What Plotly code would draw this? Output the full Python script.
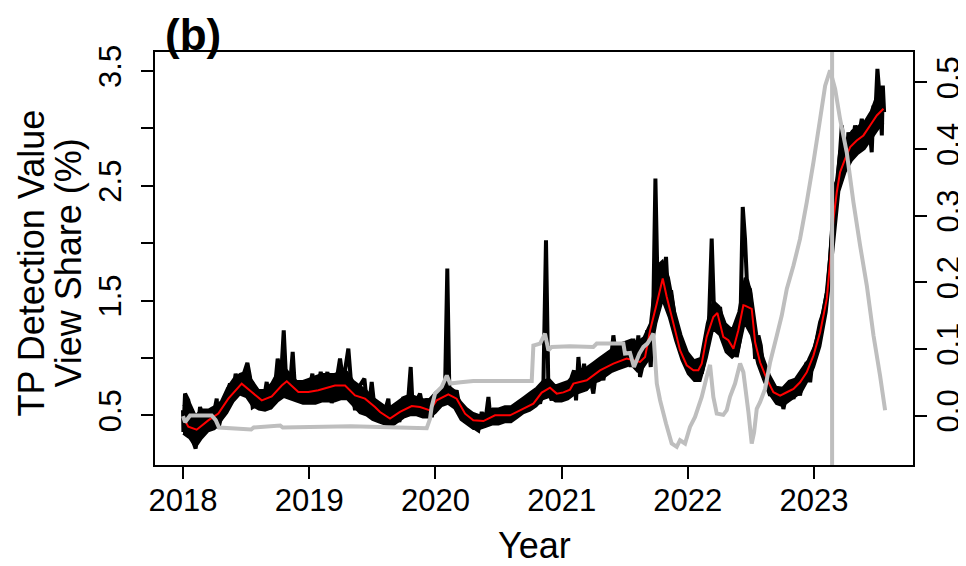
import plotly.graph_objects as go

# ---------------- data ----------------
black_year = [
    2018.000, 2018.003, 2018.016, 2018.042, 2018.069, 2018.100, 2018.135, 2018.169, 2018.200, 2018.232,
    2018.267, 2018.280, 2018.333, 2018.372, 2018.391, 2018.417, 2018.444, 2018.478, 2018.510, 2018.531,
    2018.552, 2018.592, 2018.629, 2018.663, 2018.690, 2018.724, 2018.750, 2018.777, 2018.798, 2018.817,
    2018.843, 2018.869, 2018.888, 2018.927, 2018.967, 2019.006, 2019.025, 2019.051, 2019.091, 2019.117,
    2019.144, 2019.178, 2019.210, 2019.244, 2019.270, 2019.310, 2019.331, 2019.363, 2019.394, 2019.437,
    2019.463, 2019.482, 2019.495, 2019.521, 2019.561, 2019.587, 2019.627, 2019.646, 2019.680, 2019.714,
    2019.746, 2019.778, 2019.804, 2019.820, 2019.852, 2019.878, 2019.904, 2019.936, 2019.971, 2019.997,
    2020.024, 2020.050, 2020.076, 2020.094, 2020.110, 2020.142, 2020.168, 2020.195, 2020.235, 2020.274,
    2020.300, 2020.340, 2020.367, 2020.393, 2020.420, 2020.438, 2020.472, 2020.512, 2020.552, 2020.591,
    2020.631, 2020.670, 2020.697, 2020.737, 2020.776, 2020.803, 2020.829, 2020.855, 2020.876, 2020.895,
    2020.921, 2020.948, 2020.974, 2021.000, 2021.040, 2021.066, 2021.080, 2021.098, 2021.114, 2021.133,
    2021.151, 2021.178, 2021.199, 2021.225, 2021.251, 2021.278, 2021.304, 2021.331, 2021.357, 2021.383,
    2021.410, 2021.431, 2021.450, 2021.476, 2021.502, 2021.529, 2021.547, 2021.568, 2021.589, 2021.608,
    2021.621, 2021.648, 2021.679, 2021.706, 2021.727, 2021.743, 2021.759, 2021.775, 2021.788, 2021.806,
    2021.827, 2021.846, 2021.867, 2021.899, 2021.925, 2021.951, 2021.978, 2022.004, 2022.031, 2022.057,
    2022.083, 2022.110, 2022.136, 2022.163, 2022.189, 2022.207, 2022.229, 2022.255, 2022.281, 2022.308,
    2022.334, 2022.361, 2022.387, 2022.414, 2022.435, 2022.453, 2022.467, 2022.493, 2022.514, 2022.533,
    2022.559, 2022.578, 2022.599, 2022.625, 2022.652, 2022.678, 2022.705, 2022.731, 2022.757, 2022.784,
    2022.810, 2022.837, 2022.863, 2022.889, 2022.916, 2022.942, 2022.969, 2022.995, 2023.022, 2023.048,
    2023.074, 2023.101, 2023.127, 2023.148, 2023.167, 2023.188, 2023.206, 2023.220, 2023.238, 2023.259,
    2023.272, 2023.299, 2023.325, 2023.352, 2023.378, 2023.405, 2023.431, 2023.457, 2023.471, 2023.484,
    2023.502, 2023.523, 2023.537, 2023.545, 2023.555,
]
black_value = [
    0.544, 0.355, 0.689, 0.631, 0.310, 0.210, 0.572, 0.427, 0.544, 0.442,
    0.645, 0.384, 0.631, 0.776, 0.660, 0.863, 0.718, 0.848, 0.956, 0.834,
    0.572, 0.600, 0.558, 0.791, 0.558, 0.689, 0.994, 0.834, 1.241, 0.805,
    0.689, 1.052, 0.718, 0.674, 0.689, 0.747, 0.863, 0.616, 0.878, 0.747,
    0.878, 0.607, 0.760, 0.994, 0.791, 1.081, 0.791, 0.544, 0.747, 0.820,
    0.544, 0.660, 0.790, 0.529, 0.602, 0.485, 0.645, 0.398, 0.572, 0.442,
    0.660, 0.544, 0.921, 0.558, 0.631, 0.689, 0.544, 0.645, 0.485, 0.631,
    0.703, 0.631, 0.718, 1.779, 0.718, 0.660, 0.718, 0.544, 0.442, 0.515,
    0.398, 0.369, 0.529, 0.427, 0.660, 0.442, 0.544, 0.442, 0.529, 0.485,
    0.529, 0.602, 0.529, 0.616, 0.602, 0.660, 0.602, 0.747, 2.026, 0.718,
    0.631, 0.733, 0.660, 0.718, 0.689, 0.718, 0.834, 0.892, 0.631, 1.008,
    0.747, 0.950, 0.747, 0.834, 0.689, 0.921, 0.979, 0.805, 1.008, 0.892,
    1.197, 1.008, 1.095, 0.950, 1.052, 1.125, 0.921, 1.168, 0.979, 1.197,
    0.834, 0.965, 1.241, 0.921, 1.474, 2.564, 1.677, 1.503, 1.823, 1.677,
    1.880, 1.474, 1.590, 1.328, 1.212, 1.067, 1.008, 0.892, 0.950, 0.820,
    0.921, 0.863, 1.008, 1.168, 2.040, 1.415, 1.328, 1.444, 1.212, 1.168,
    1.125, 1.212, 1.008, 1.168, 2.316, 2.037, 1.688, 1.572, 1.340, 0.991,
    1.195, 1.108, 0.875, 0.759, 0.672, 0.729, 0.613, 0.729, 0.555, 0.701,
    0.773, 0.642, 0.817, 0.672, 0.875, 0.962, 0.788, 1.049, 1.165, 1.311,
    1.398, 1.572, 1.863, 2.211, 2.503, 2.560, 2.793, 3.026, 2.793, 2.648,
    2.965, 2.822, 3.026, 2.909, 3.084, 2.939, 3.084, 2.793, 3.200, 3.084,
    3.519, 3.229, 2.939, 3.374, 3.142,
]

# solid core of the thick, noisy daily black trace (lower / upper edge)
band_year = [
    2018.00, 2018.05, 2018.10, 2018.15, 2018.20, 2018.25, 2018.30, 2018.35, 2018.40, 2018.45,
    2018.50, 2018.55, 2018.60, 2018.65, 2018.70, 2018.75, 2018.80, 2018.85, 2018.90, 2018.95,
    2019.00, 2019.05, 2019.10, 2019.15, 2019.20, 2019.25, 2019.30, 2019.35, 2019.40, 2019.45,
    2019.50, 2019.55, 2019.60, 2019.65, 2019.70, 2019.75, 2019.80, 2019.85, 2019.90, 2019.95,
    2020.00, 2020.05, 2020.10, 2020.15, 2020.20, 2020.25, 2020.30, 2020.35, 2020.40, 2020.45,
    2020.50, 2020.55, 2020.60, 2020.65, 2020.70, 2020.75, 2020.80, 2020.85, 2020.90, 2020.95,
    2021.00, 2021.05, 2021.10, 2021.15, 2021.20, 2021.25, 2021.30, 2021.35, 2021.40, 2021.45,
    2021.50, 2021.55, 2021.60, 2021.65, 2021.70, 2021.75, 2021.80, 2021.85, 2021.90, 2021.95,
    2022.00, 2022.05, 2022.10, 2022.15, 2022.20, 2022.25, 2022.30, 2022.35, 2022.40, 2022.45,
    2022.50, 2022.55, 2022.60, 2022.65, 2022.70, 2022.75, 2022.80, 2022.85, 2022.90, 2022.95,
    2023.00, 2023.05, 2023.10, 2023.15, 2023.20, 2023.25, 2023.30, 2023.35, 2023.40, 2023.45,
    2023.50, 2023.55,
]
band_low = [
    0.34, 0.30, 0.22, 0.30, 0.36, 0.38, 0.45, 0.52, 0.62, 0.68,
    0.66, 0.58, 0.55, 0.54, 0.56, 0.62, 0.66, 0.64, 0.62, 0.60,
    0.60, 0.60, 0.62, 0.62, 0.62, 0.64, 0.64, 0.58, 0.52, 0.50,
    0.46, 0.44, 0.42, 0.40, 0.44, 0.48, 0.50, 0.50, 0.48, 0.48,
    0.52, 0.58, 0.60, 0.56, 0.46, 0.42, 0.38, 0.38, 0.40, 0.42,
    0.42, 0.44, 0.44, 0.48, 0.52, 0.54, 0.58, 0.64, 0.66, 0.62,
    0.62, 0.64, 0.68, 0.70, 0.72, 0.78, 0.80, 0.84, 0.88, 0.90,
    0.92, 0.94, 0.88, 0.92, 1.00, 1.30, 1.50, 1.35, 1.15, 0.98,
    0.86, 0.80, 0.80, 1.00, 1.25, 1.20, 1.05, 1.00, 1.05, 1.30,
    1.20, 0.95, 0.80, 0.68, 0.60, 0.58, 0.62, 0.66, 0.70, 0.80,
    0.92, 1.10, 1.40, 1.90, 2.45, 2.62, 2.72, 2.78, 2.82, 2.90,
    2.98, 3.05,
]
band_high = [
    0.58, 0.62, 0.50, 0.55, 0.55, 0.58, 0.62, 0.74, 0.82, 0.86,
    0.88, 0.80, 0.72, 0.72, 0.78, 0.88, 0.92, 0.86, 0.80, 0.80,
    0.82, 0.84, 0.86, 0.86, 0.86, 0.88, 0.88, 0.80, 0.76, 0.72,
    0.66, 0.62, 0.58, 0.58, 0.62, 0.66, 0.68, 0.66, 0.64, 0.64,
    0.70, 0.74, 0.76, 0.72, 0.62, 0.56, 0.52, 0.50, 0.52, 0.56,
    0.56, 0.58, 0.58, 0.62, 0.66, 0.70, 0.74, 0.80, 0.82, 0.76,
    0.78, 0.80, 0.86, 0.90, 0.92, 0.96, 1.00, 1.04, 1.08, 1.12,
    1.14, 1.16, 1.14, 1.18, 1.30, 1.80, 1.85, 1.70, 1.40, 1.20,
    1.05, 0.98, 1.00, 1.30, 1.50, 1.45, 1.30, 1.25, 1.40, 1.70,
    1.60, 1.20, 1.00, 0.85, 0.75, 0.74, 0.80, 0.82, 0.90, 0.98,
    1.10, 1.32, 1.60, 2.30, 2.80, 2.90, 2.98, 3.02, 3.06, 3.15,
    3.30, 3.30,
]

smooth_year = [
    2018.000, 2018.042, 2018.108, 2018.200, 2018.280, 2018.359, 2018.465, 2018.544, 2018.624, 2018.703,
    2018.782, 2018.822, 2018.914, 2018.993, 2019.072, 2019.204, 2019.284, 2019.363, 2019.442, 2019.521,
    2019.561, 2019.640, 2019.719, 2019.812, 2019.878, 2019.957, 2020.010, 2020.102, 2020.168, 2020.235,
    2020.300, 2020.380, 2020.472, 2020.591, 2020.670, 2020.776, 2020.842, 2020.908, 2020.961, 2021.014,
    2021.066, 2021.093, 2021.199, 2021.304, 2021.410, 2021.515, 2021.621, 2021.661, 2021.701, 2021.754,
    2021.801, 2021.833, 2021.886, 2021.938, 2021.991, 2022.044, 2022.083, 2022.110, 2022.149, 2022.202,
    2022.234, 2022.255, 2022.281, 2022.321, 2022.361, 2022.400, 2022.440, 2022.453, 2022.506, 2022.533,
    2022.572, 2022.625, 2022.678, 2022.731, 2022.784, 2022.837, 2022.889, 2022.942, 2022.995, 2023.048,
    2023.101, 2023.127, 2023.154, 2023.180, 2023.206, 2023.246, 2023.286, 2023.338, 2023.391, 2023.444,
    2023.497, 2023.550,
]
smooth_value = [
    0.485, 0.400, 0.375, 0.456, 0.515, 0.645, 0.776, 0.703, 0.630, 0.665,
    0.760, 0.796, 0.703, 0.703, 0.718, 0.760, 0.760, 0.674, 0.645, 0.572,
    0.529, 0.471, 0.529, 0.581, 0.572, 0.543, 0.631, 0.683, 0.645, 0.514,
    0.456, 0.450, 0.500, 0.500, 0.543, 0.602, 0.698, 0.741, 0.689, 0.700,
    0.724, 0.776, 0.805, 0.892, 0.950, 0.994, 0.965, 1.008, 1.241, 1.474,
    1.692, 1.531, 1.299, 1.067, 0.936, 0.892, 0.892, 0.950, 1.183, 1.357,
    1.392, 1.299, 1.183, 1.154, 1.081, 1.241, 1.459, 1.456, 1.427, 1.136,
    0.962, 0.817, 0.701, 0.672, 0.701, 0.730, 0.788, 0.875, 1.020, 1.224,
    1.514, 1.834, 2.211, 2.444, 2.619, 2.735, 2.837, 2.895, 2.939, 3.026,
    3.113, 3.171,
]

share_year = [
    2018.000, 2018.016, 2018.056, 2018.227, 2018.259, 2018.285, 2018.540, 2018.560, 2018.770, 2018.790,
    2019.330, 2019.931, 2019.957, 2019.970, 2019.997, 2020.050, 2020.090, 2020.116, 2020.200, 2020.300,
    2020.763, 2020.776, 2020.829, 2020.868, 2020.895, 2020.921, 2021.066, 2021.251, 2021.278, 2021.489,
    2021.502, 2021.542, 2021.573, 2021.616, 2021.648, 2021.679, 2021.706, 2021.727, 2021.754, 2021.780,
    2021.827, 2021.872, 2021.912, 2021.938, 2021.978, 2022.017, 2022.057, 2022.110, 2022.149, 2022.176,
    2022.202, 2022.229, 2022.281, 2022.308, 2022.334, 2022.374, 2022.414, 2022.440, 2022.480, 2022.506,
    2022.525, 2022.546, 2022.572, 2022.612, 2022.652, 2022.705, 2022.744, 2022.784, 2022.837, 2022.889,
    2022.942, 2022.995, 2023.048, 2023.088, 2023.127, 2023.167, 2023.206, 2023.259, 2023.312, 2023.365,
    2023.418, 2023.471, 2023.523, 2023.563,
]
share_value = [
    -0.001, -0.010, 0.000, 0.000, -0.007, -0.018, -0.021, -0.018, -0.015, -0.018,
    -0.016, -0.019, -0.005, 0.013, 0.033, 0.043, 0.060, 0.048, 0.050, 0.052,
    0.052, 0.105, 0.108, 0.123, 0.098, 0.103, 0.104, 0.103, 0.108, 0.108,
    0.093, 0.094, 0.073, 0.093, 0.103, 0.108, 0.116, 0.123, 0.048, 0.023,
    -0.012, -0.042, -0.047, -0.037, -0.042, -0.017, -0.002, 0.028, 0.058, 0.076,
    0.028, 0.003, 0.001, 0.008, 0.028, 0.048, 0.078, 0.065, 0.005, -0.042,
    -0.025, 0.010, 0.020, 0.040, 0.080, 0.120, 0.150, 0.190, 0.225, 0.265,
    0.320, 0.380, 0.445, 0.495, 0.518, 0.490, 0.445, 0.395, 0.320, 0.255,
    0.195, 0.120, 0.060, 0.008,
]

event_year = 2023.143
year_ticks = [2018, 2019, 2020, 2021, 2022, 2023]
left_ticks = [0.5, 1.0, 1.5, 2.0, 2.5, 3.0, 3.5]
left_labels = ["0.5", "", "1.5", "", "2.5", "", "3.5"]
right_ticks = [0.0, 0.1, 0.2, 0.3, 0.4, 0.5]
right_labels = ["0.0", "0.1", "0.2", "0.3", "0.4", "0.5"]

# ---------------- figure ----------------
FONT = "Liberation Sans, Arial, Helvetica, sans-serif"
GRAY = "#BEBEBE"

fig = go.Figure()
fig.add_trace(go.Scatter(x=band_year, y=band_low, mode="lines",
                         line=dict(color="black", width=2, simplify=False),
                         showlegend=False, hoverinfo="skip"))
fig.add_trace(go.Scatter(x=band_year, y=band_high, mode="lines", fill="tonexty",
                         fillcolor="black", line=dict(color="black", width=2, simplify=False),
                         showlegend=False, hoverinfo="skip"))
fig.add_trace(go.Scatter(x=black_year, y=black_value, mode="lines",
                         line=dict(color="black", width=4, simplify=False),
                         showlegend=False, hoverinfo="skip"))
fig.add_trace(go.Scatter(x=smooth_year, y=smooth_value, mode="lines",
                         line=dict(color="#FF0000", width=2, simplify=False),
                         showlegend=False, hoverinfo="skip"))
fig.add_trace(go.Scatter(x=share_year, y=share_value, mode="lines", yaxis="y2",
                         line=dict(color=GRAY, width=4, simplify=False),
                         showlegend=False, hoverinfo="skip"))

fig.add_shape(type="line", xref="x", yref="paper", x0=event_year, x1=event_year,
              y0=0, y1=1, line=dict(color=GRAY, width=4), layer="above")

tickfont = dict(family=FONT, size=31, color="black")
common = dict(showgrid=False, zeroline=False, ticks="outside", ticklen=12, tickwidth=2,
              tickcolor="black", showline=True, linecolor="black", linewidth=2,
              tickfont=tickfont, automargin=False)

fig.update_layout(
    width=966, height=566,
    margin=dict(l=147, r=61, t=44, b=109, autoexpand=False),
    paper_bgcolor="white", plot_bgcolor="white",
    xaxis=dict(range=[2017.778, 2023.784], tickvals=year_ticks,
               ticktext=[str(y) for y in year_ticks], mirror=True,
               ticklabelstandoff=-5, **common),
    yaxis=dict(range=[0.067, 3.666], tickvals=left_ticks, ticktext=left_labels,
               tickangle=-90, mirror=True, ticklabelstandoff=8, **common),
    yaxis2=dict(range=[-0.0742, 0.5455], tickvals=right_ticks, ticktext=right_labels,
                tickangle=-90, overlaying="y", side="right", ticklabelstandoff=-5,
                **common),
    annotations=[
        dict(text="<b>(b)</b>", xref="paper", yref="paper", x=0.0106, y=1.0412,
             xanchor="left", yanchor="middle", showarrow=False,
             font=dict(family=FONT, size=44, color="black")),
        dict(text="Year", xref="paper", yref="paper", x=0.5, y=-0.196,
             xanchor="center", yanchor="middle", showarrow=False,
             font=dict(family=FONT, size=36, color="black")),
        dict(text="TP Detection Value", xref="paper", yref="paper", x=-0.1623, y=0.49,
             xanchor="center", yanchor="middle", textangle=-90, showarrow=False,
             font=dict(family=FONT, size=36, color="black")),
        dict(text="View Share (%)", xref="paper", yref="paper", x=-0.1135, y=0.49,
             xanchor="center", yanchor="middle", textangle=-90, showarrow=False,
             font=dict(family=FONT, size=36, color="black")),
    ],
)

fig.write_html("out.html")
